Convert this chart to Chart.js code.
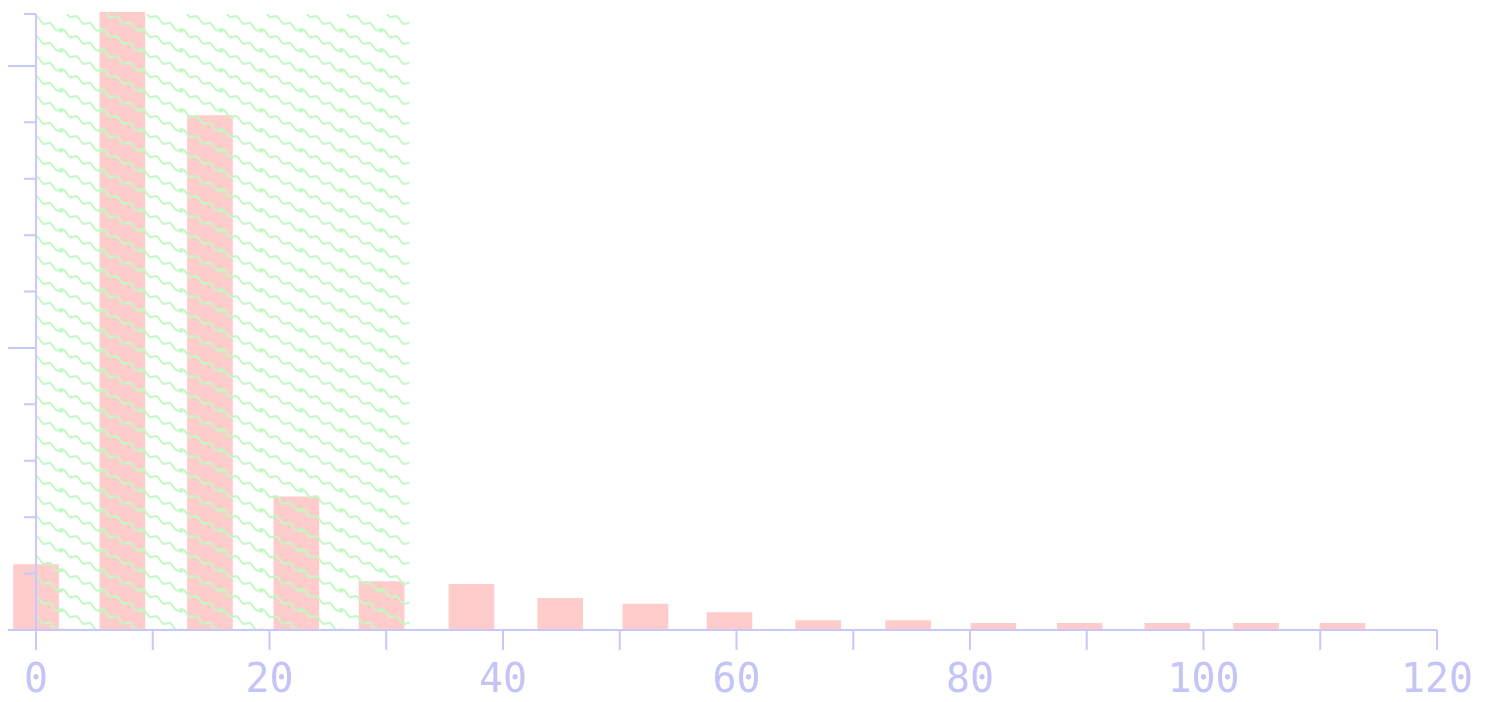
<!DOCTYPE html>
<html><head><meta charset="utf-8">
<script src="https://cdn.jsdelivr.net/npm/chart.js@4.4.0/dist/chart.umd.min.js"></script>
<style>html,body{margin:0;padding:0;background:#fff;overflow:hidden}#wrap{width:1485px;height:702px}</style>
</head><body><div id="wrap"><canvas id="c" width="1485" height="702"></canvas></div>
<script>
// ---- data ----
const binCenters = [0, 7.4, 14.9, 22.3, 29.6, 37.3, 44.9, 52.2, 59.4, 67, 74.7, 82, 89.4, 96.9, 104.5, 111.9];
const counts = [1.16, 10.95, 9.12, 2.36, 0.86, 0.81, 0.56, 0.46, 0.31, 0.165, 0.165, 0.12, 0.12, 0.12, 0.12, 0.12];
const xTickValues = [0, 10, 20, 30, 40, 50, 60, 70, 80, 90, 100, 110, 120];
const xLabelValues = [0, 20, 40, 60, 80, 100, 120];
const yMinorTicks = [1, 2, 3, 4, 6, 7, 8, 9, 10.92];
const yMajorTicks = [0, 5, 10];
const hatchRange = [0, 32];
const xRange = [0, 120];
const yRange = [0, 10.92];

const AXIS = '#c8c8fc';
const LABEL = '#c4c4f8';

function makePattern(ctx) {
  const c = document.createElement('canvas');
  c.width = 40; c.height = 20;
  const g = c.getContext('2d');
  g.strokeStyle = '#c2f8c2';
  g.fillStyle = '#c2f8c2';
  g.lineWidth = 2;
  for (const [ox, oy] of [[0,0],[-40,0],[40,0],[0,-20],[0,20],[-40,-20],[40,20]]) {
    g.beginPath();
    for (let t = 0; t <= 40; t += 0.5) {
      const px = t + ox;
      const py = t / 2 + 2 * Math.sin(t * 2 * Math.PI / (40 / 3)) + oy;
      if (t === 0) g.moveTo(px, py); else g.lineTo(px, py);
    }
    g.stroke();
    g.fillRect(19 + ox, 8.5 + oy, 4, 4);
  }
  return ctx.createPattern(c, 'repeat');
}

const overlay = {
  id: 'overlay',
  afterDatasetsDraw(chart) {
    const {ctx, chartArea, scales: {x}} = chart;
    const x0 = x.getPixelForValue(hatchRange[0]);
    const x1 = x.getPixelForValue(hatchRange[1]);
    ctx.save();
    ctx.fillStyle = makePattern(ctx);
    ctx.fillRect(x0, chartArea.top, x1 - x0, chartArea.bottom - chartArea.top);
    ctx.restore();
  },
  afterDraw(chart) {
    const {ctx, scales: {x, y}} = chart;
    const ax = x.getPixelForValue(xRange[0]);
    const ay = y.getPixelForValue(yRange[0]);
    const xr = x.getPixelForValue(xRange[1]);
    const yt = y.getPixelForValue(yRange[1]);
    ctx.save();
    ctx.strokeStyle = AXIS;
    ctx.lineWidth = 2;
    ctx.beginPath();
    ctx.moveTo(ax, yt); ctx.lineTo(ax, ay);
    ctx.moveTo(ax, ay); ctx.lineTo(xr, ay);
    for (const v of xTickValues) {
      const px = x.getPixelForValue(v);
      ctx.moveTo(px, ay); ctx.lineTo(px, ay + 20);
    }
    for (const v of yMinorTicks) {
      const py = y.getPixelForValue(v);
      ctx.moveTo(ax - 12, py); ctx.lineTo(ax, py);
    }
    for (const v of yMajorTicks) {
      const py = y.getPixelForValue(v);
      ctx.moveTo(ax - 28, py); ctx.lineTo(ax, py);
    }
    ctx.stroke();
    ctx.restore();
  }
};

new Chart(document.getElementById('c'), {
  type: 'bar',
  data: {
    datasets: [{
      data: binCenters.map((v, i) => ({x: v, y: counts[i]})),
      backgroundColor: '#ffcccc',
      borderWidth: 0,
      barThickness: 45,
      clip: false
    }]
  },
  options: {
    responsive: false,
    animation: false,
    layout: {padding: {top: 14, right: 48, left: 0, bottom: 0}},
    plugins: {legend: {display: false}, tooltip: {enabled: false}},
    scales: {
      x: {
        type: 'linear', min: xRange[0], max: xRange[1], offset: false,
        grid: {display: false, drawTicks: false}, border: {display: false},
        afterBuildTicks: s => { s.ticks = xLabelValues.map(v => ({value: v})); },
        ticks: {
          autoSkip: false, maxRotation: 0, padding: 28,
          color: LABEL,
          font: {family: 'DejaVu Sans Mono', size: 40},
          callback: v => String(v)
        },
        afterFit: s => { s.height = 72; s.paddingLeft = 0; s.paddingRight = 0; }
      },
      y: {
        min: yRange[0], max: yRange[1],
        grid: {display: false, drawTicks: false}, border: {display: false},
        ticks: {display: false},
        afterFit: s => { s.width = 36; s.paddingTop = 0; s.paddingBottom = 0; }
      }
    }
  },
  plugins: [overlay]
});
</script></body></html>
